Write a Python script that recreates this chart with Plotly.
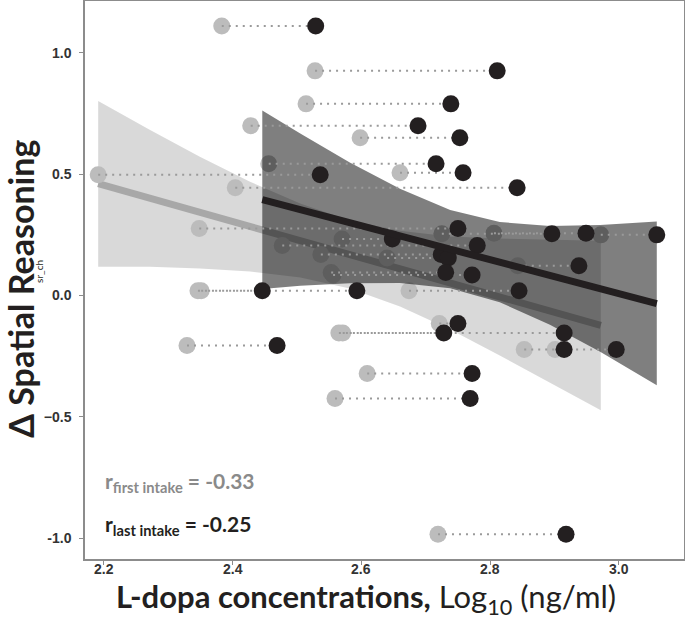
import plotly.graph_objects as go

# ---- data ----
first_intake_x = [2.383, 2.528, 2.514, 2.428, 2.598, 2.456, 2.191, 2.660, 2.404, 2.348,
                  2.570, 2.725, 2.806, 2.972, 2.477, 2.537, 2.640, 2.843, 2.553, 2.556,
                  2.351, 2.346, 2.674, 2.721, 2.565, 2.571, 2.329, 2.853, 2.901, 2.609,
                  2.559, 2.719]
last_intake_x = [2.529, 2.811, 2.739, 2.688, 2.753, 2.716, 2.536, 2.758, 2.842, 2.750,
                 2.648, 2.896, 2.949, 3.059, 2.780, 2.724, 2.735, 2.938, 2.731, 2.772,
                 2.446, 2.593, 2.845, 2.750, 2.728, 2.915, 2.469, 2.915, 2.996, 2.772,
                 2.769, 2.918]
delta_sr = [1.111, 0.926, 0.790, 0.700, 0.650, 0.543, 0.498, 0.506, 0.444, 0.276,
            0.233, 0.255, 0.257, 0.250, 0.206, 0.169, 0.155, 0.123, 0.095, 0.085,
            0.020, 0.020, 0.020, -0.115, -0.154, -0.154, -0.206, -0.222, -0.222, -0.321,
            -0.424, -0.984]

# regression fits and confidence bands
first_fit_x = [2.191, 2.972]
first_fit_y = [0.461, -0.123]
first_band_x = [2.191, 2.271, 2.349, 2.427, 2.505, 2.582, 2.660, 2.738, 2.815, 2.893, 2.972]
first_band_hi = [0.802, 0.683, 0.572, 0.469, 0.379, 0.309, 0.267, 0.243, 0.235, 0.230, 0.226]
first_band_lo = [0.119, 0.119, 0.111, 0.099, 0.074, 0.029, -0.045, -0.140, -0.247, -0.358, -0.473]

last_fit_x = [2.446, 3.059]
last_fit_y = [0.395, -0.033]
last_band_x = [2.446, 2.505, 2.582, 2.660, 2.738, 2.815, 2.893, 2.971, 3.059]
last_band_hi = [0.763, 0.668, 0.548, 0.440, 0.353, 0.303, 0.287, 0.291, 0.305]
last_band_lo = [0.027, 0.040, 0.051, 0.052, 0.030, -0.028, -0.120, -0.232, -0.370]

r_first = -0.33
r_last = -0.25

y_ticks = [1.0, 0.5, 0.0, -0.5, -1.0]
y_ticktext = ["1.0", "0.5", "0.0", "\u22120.5", "-1.0"]
x_ticks = [2.2, 2.4, 2.6, 2.8, 3.0]
x_ticktext = ["2.2", "2.4", "2.6", "2.8", "3.0"]

GRAY_PT = "#bcbcbc"
BLACK = "#231f20"
FRAME = "#8c8c8c"
TICK_FONT = dict(family="Liberation Sans", size=14, color="#333333")

fig = go.Figure()

# light confidence band (first intake)
fig.add_trace(go.Scatter(
    x=first_band_x + first_band_x[::-1],
    y=first_band_hi + first_band_lo[::-1],
    fill="toself", fillcolor="rgba(0,0,0,0.15)",
    line=dict(width=0), mode="lines", hoverinfo="skip", showlegend=False))

# first-intake regression line
fig.add_trace(go.Scatter(
    x=first_fit_x, y=first_fit_y, mode="lines",
    line=dict(color="#a8a8a8", width=7), showlegend=False, hoverinfo="skip"))

# first-intake points
fig.add_trace(go.Scatter(
    x=first_intake_x, y=delta_sr, mode="markers",
    marker=dict(color=GRAY_PT, size=17, line=dict(width=0)),
    showlegend=False))

# dark confidence band (last intake)
fig.add_trace(go.Scatter(
    x=last_band_x + last_band_x[::-1],
    y=last_band_hi + last_band_lo[::-1],
    fill="toself", fillcolor="rgba(0,0,0,0.5)",
    line=dict(width=0), mode="lines", hoverinfo="skip", showlegend=False))

# dotted connectors
cx, cy = [], []
for a, b, y in zip(first_intake_x, last_intake_x, delta_sr):
    cx += [a, b, None]
    cy += [y, y, None]
fig.add_trace(go.Scatter(
    x=cx, y=cy, mode="lines",
    line=dict(color="#9a9a9a", width=2, dash="2px,5px"),
    hoverinfo="skip", showlegend=False))

# last-intake points
fig.add_trace(go.Scatter(
    x=last_intake_x, y=delta_sr, mode="markers",
    marker=dict(color=BLACK, size=17, line=dict(width=0)),
    showlegend=False))

# last-intake regression line
fig.add_trace(go.Scatter(
    x=last_fit_x, y=last_fit_y, mode="lines",
    line=dict(color=BLACK, width=7), showlegend=False, hoverinfo="skip"))

axis_common = dict(showgrid=False, zeroline=False, showline=True, linecolor=FRAME,
                   linewidth=1.5, mirror=True, ticks="outside", ticklen=4,
                   tickcolor=FRAME, tickwidth=1.2)

fig.update_xaxes(range=[2.1705, 3.1013], tickvals=x_ticks, showticklabels=False,
                 **axis_common)
fig.update_yaxes(range=[-1.086, 1.214], tickvals=y_ticks,
                 ticktext=[f"<b>{t}</b>" for t in y_ticktext],
                 tickfont=TICK_FONT, ticklabelstandoff=5,
                 **axis_common)

TF = "Lato"
annotations = [
    dict(xref="paper", yref="paper", x=0.469, y=-0.0705, xanchor="center", yanchor="middle",
         text="<b>L-dopa concentrations,</b> Log<sub>10</sub> (ng/ml)",
         font=dict(family=TF, size=31, color=BLACK), showarrow=False),
    dict(xref="paper", yref="paper", x=-0.108, y=0.485, xanchor="center", yanchor="middle",
         text="<b>\u0394 Spatial Reasoning</b>", textangle=-90,
         font=dict(family=TF, size=34, color=BLACK), showarrow=False),
    dict(xref="paper", yref="paper", x=-0.078, y=0.515, xanchor="center", yanchor="middle",
         text="sr_ch", textangle=-90,
         font=dict(family=TF, size=10, color=BLACK), showarrow=False),
    dict(xref="x", yref="y", x=2.198, y=-0.77, xanchor="left", yanchor="middle",
         text=f"<b>r<sub>first intake</sub> = {r_first:.2f}</b>",
         font=dict(family=TF, size=21, color="#8a8a8a"), showarrow=False),
    dict(xref="x", yref="y", x=2.198, y=-0.947, xanchor="left", yanchor="middle",
         text=f"<b>r<sub>last intake</sub> = {r_last:.2f}</b>",
         font=dict(family=TF, size=21, color=BLACK), showarrow=False),
]
# x tick labels placed close to the axis, as in the reference
for v, t in zip(x_ticks, x_ticktext):
    annotations.append(dict(xref="x", yref="paper", x=v, y=-0.0185,
                            xanchor="center", yanchor="middle",
                            text=f"<b>{t}</b>", font=TICK_FONT, showarrow=False))

fig.update_layout(
    width=685, height=618,
    margin=dict(l=85, r=1, t=1, b=59, autoexpand=False),
    paper_bgcolor="white", plot_bgcolor="white",
    showlegend=False,
    annotations=annotations,
)

fig.write_html("out.html", config={"displayModeBar": False},
               post_script="document.body.style.margin='0';document.body.style.overflow='hidden';")
